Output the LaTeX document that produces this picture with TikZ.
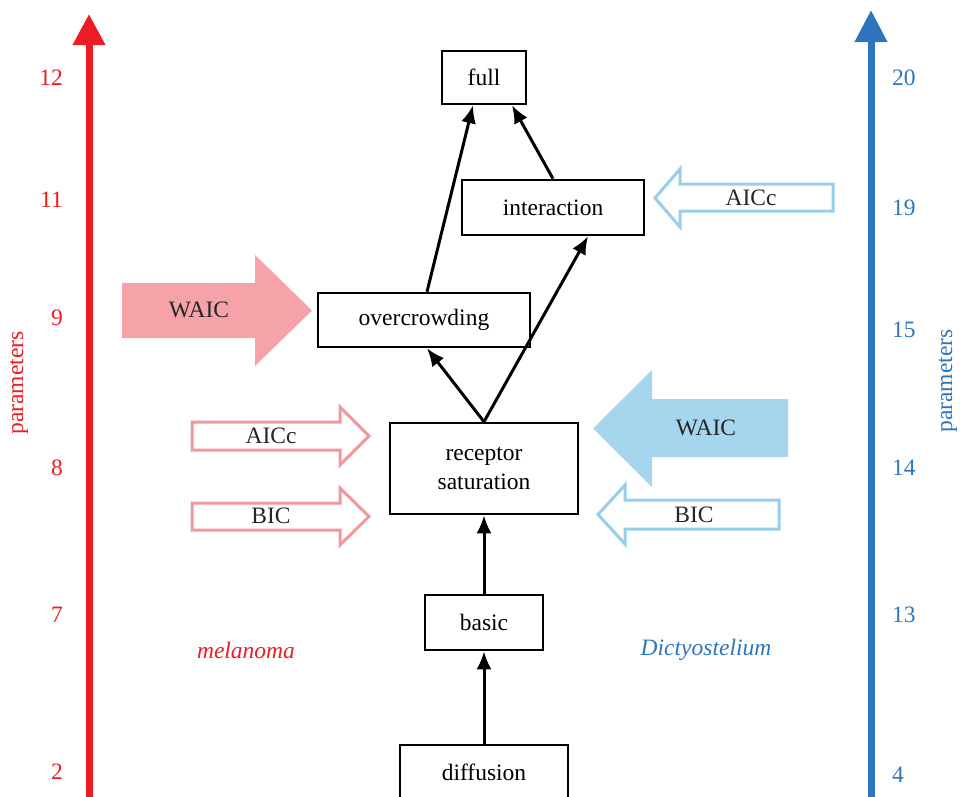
\documentclass[tikz,border=0pt]{standalone}
\usepackage{fontspec}
\setmainfont{Liberation Serif}
\usetikzlibrary{arrows.meta,positioning}
\definecolor{axisred}{RGB}{237,28,36}
\definecolor{axisblue}{RGB}{46,117,189}
\definecolor{waicred}{RGB}{245,163,168}
\definecolor{critred}{RGB}{240,152,156}
\definecolor{waicblue}{RGB}{166,213,238}
\definecolor{critblue}{RGB}{152,206,236}
\begin{document}
\begin{tikzpicture}[
    x=1pt, y=-1pt,
    font=\fontsize{23.5}{29}\selectfont,
    model/.style={
        rectangle,
        draw=black,
        fill=white,
        align=center,
        inner sep=0pt,
        line width=2.5pt
    },
    link/.style={
        -{Latex[length=18pt,width=15pt]},
        line width=3pt
    },
    rednum/.style={text=axisred, anchor=east, inner sep=0pt},
    bluenum/.style={text=axisblue, anchor=west, inner sep=0pt},
    crit/.style={inner sep=0pt, text=black!85},
    hollowred/.style={draw=critred, fill=white, line width=3pt},
    hollowblue/.style={draw=critblue, fill=white, line width=3pt}
]
\clip (0,0) rectangle (960,796);

% === AXES ===
\coordinate (redbot) at (89,800);
\coordinate (redtop) at (89,14);
\coordinate (bluebot) at (871,800);
\coordinate (bluetop) at (871,10);
\draw[-{Triangle[length=31pt,width=31pt]}, line width=7pt, axisred] (redbot) -- (redtop);
\draw[-{Triangle[length=32pt,width=31pt]}, line width=7pt, axisblue] (bluebot) -- (bluetop);

\foreach \n/\y in {12/78, 11/200, 9/318, 8/468, 7/615, 2/772}
    \node[rednum] (rn\n) at (63,\y) {\n};
\foreach \n/\y in {20/78, 19/208, 15/330, 14/468, 13/615, 4/775}
    \node[bluenum] (bn\n) at (892,\y) {\n};

\node[text=axisred, rotate=90] (redlab) at (19,383) {parameters};
\node[text=axisblue, rotate=90] (bluelab) at (948,381) {parameters};

\node[text=axisred, font=\fontsize{23.5}{29}\selectfont\itshape] (mel) at (246,650) {melanoma};
\node[text=axisblue, font=\fontsize{23.5}{29}\selectfont\itshape] (dicty) at (706,650) {Dictyostelium};

% === MODELS ===
\node[model, minimum width=84pt, minimum height=53pt] (full) at (484,77.5) {full};
\node[model, minimum width=182pt, minimum height=55pt] (inter) at (553,207.5) {interaction};
\node[model, minimum width=212pt, minimum height=54pt] (over) at (424,320) {overcrowding};
\node[model, minimum width=188pt, minimum height=91pt] (recep) at (484,468.5) {receptor\\saturation};
\node[model, minimum width=118pt, minimum height=55pt] (basic) at (484,622.5) {basic};
\node[model, minimum width=168pt, minimum height=55pt] (diff) at (484,772.5) {diffusion};

% === LINKS ===
\draw[link] (diff) -- (basic);
\draw[link] (basic) -- (recep);
\draw[link] (recep.north) -- ([xshift=3pt]over.south);
\draw[link] (recep.north) -- ([xshift=35pt]inter.south);
\draw[link] ([xshift=3pt]over.north) -- ([xshift=-11pt]full.south);
\draw[link] (inter.north) -- ([xshift=28pt]full.south);

% === CRITERIA (melanoma) ===
\fill[waicred] (122,283) -- (255,283) -- (255,255) -- (312,310.5) -- (255,366)
    -- (255,338) -- (122,338) -- cycle;
\node[crit] (waicL) at (199,310) {WAIC};
\filldraw[hollowred] (192,422) -- (340,422) -- (340,407) -- (369,436) -- (340,465)
    -- (340,450) -- (192,450) -- cycle;
\node[crit] (aiccL) at (271,436) {AICc};
\filldraw[hollowred] (192,503) -- (340,503) -- (340,488) -- (369,516.5) -- (340,545)
    -- (340,530) -- (192,530) -- cycle;
\node[crit] (bicL) at (271,516) {BIC};

% === CRITERIA (Dictyostelium) ===
\fill[waicblue] (788,399) -- (652,399) -- (652,370) -- (593,428.5) -- (652,487)
    -- (652,457) -- (788,457) -- cycle;
\node[crit] (waicR) at (706,428) {WAIC};
\filldraw[hollowblue] (779,500) -- (625,500) -- (625,485) -- (598,514.5) -- (625,544)
    -- (625,529) -- (779,529) -- cycle;
\node[crit] (bicR) at (694,515) {BIC};
\filldraw[hollowblue] (833,184) -- (680,184) -- (680,169) -- (655,198) -- (680,227)
    -- (680,211) -- (833,211) -- cycle;
\node[crit] (aiccR) at (751,198) {AICc};

\end{tikzpicture}
\end{document}
